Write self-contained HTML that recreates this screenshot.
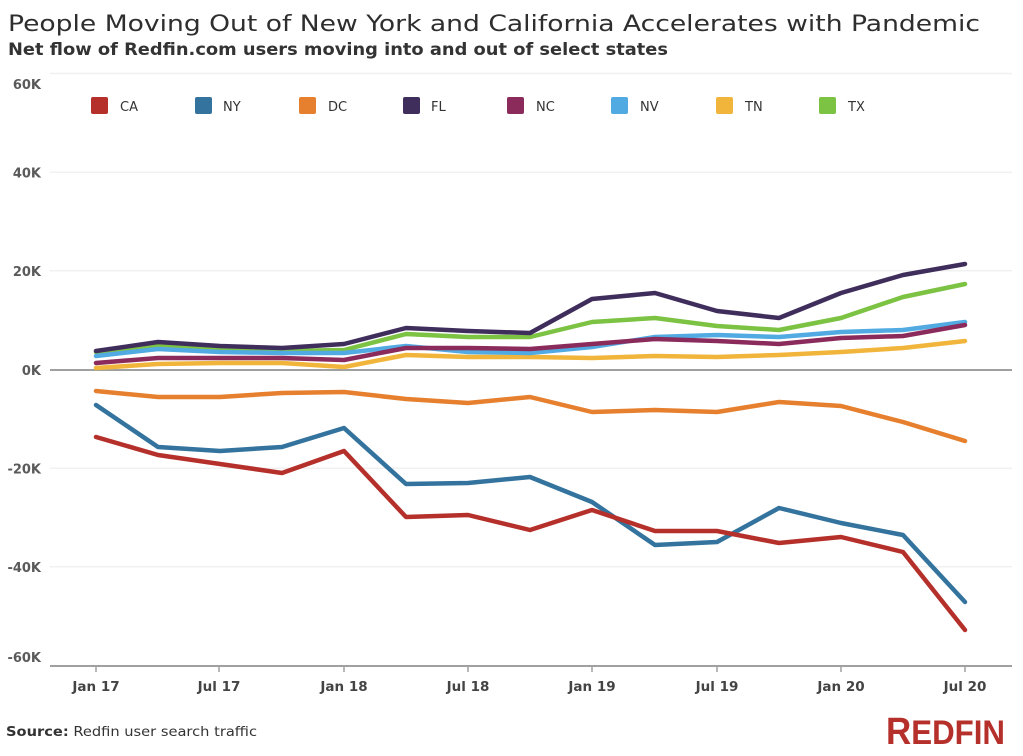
<!DOCTYPE html>
<html>
<head>
<meta charset="utf-8">
<style>
html,body{margin:0;padding:0;background:#fff;}
svg{display:block;}
text{font-family:"DejaVu Sans","Liberation Sans",sans-serif;}
</style>
</head>
<body>
<svg width="1023" height="756" viewBox="0 0 1023 756" xmlns="http://www.w3.org/2000/svg">
  <rect width="1023" height="756" fill="#fff"/>
  <!-- Title -->
  <text x="8" y="31" font-size="22" fill="#2e2e2e" textLength="972" lengthAdjust="spacingAndGlyphs">People Moving Out of New York and California Accelerates with Pandemic</text>
  <text x="8" y="55" font-size="16.5" font-weight="bold" fill="#333" textLength="660" lengthAdjust="spacingAndGlyphs">Net flow of Redfin.com users moving into and out of select states</text>

  <!-- gridlines -->
  <g stroke="#f0f0f0" stroke-width="1.5">
    <line x1="50" y1="73.5" x2="1012" y2="73.5"/>
    <line x1="50" y1="172.3" x2="1012" y2="172.3"/>
    <line x1="50" y1="270.7" x2="1012" y2="270.7"/>
    <line x1="50" y1="468.3" x2="1012" y2="468.3"/>
    <line x1="50" y1="566.7" x2="1012" y2="566.7"/>
  </g>
  <line x1="50" y1="370" x2="1012" y2="370" stroke="#a0a0a0" stroke-width="2"/>
  <line x1="50" y1="666" x2="1012" y2="666" stroke="#a0a0a0" stroke-width="2"/>
  <g stroke="#a0a0a0" stroke-width="1.5">
    <line x1="96" y1="666" x2="96" y2="672"/>
    <line x1="219" y1="666" x2="219" y2="672"/>
    <line x1="344" y1="666" x2="344" y2="672"/>
    <line x1="468" y1="666" x2="468" y2="672"/>
    <line x1="592" y1="666" x2="592" y2="672"/>
    <line x1="717" y1="666" x2="717" y2="672"/>
    <line x1="841" y1="666" x2="841" y2="672"/>
    <line x1="965" y1="666" x2="965" y2="672"/>
  </g>

  <!-- y labels -->
  <g font-size="13" font-weight="bold" fill="#5a5a5a" text-anchor="end">
    <text x="41" y="89">60K</text>
    <text x="41" y="177.5">40K</text>
    <text x="41" y="276">20K</text>
    <text x="41" y="375">0K</text>
    <text x="41" y="473.5">-20K</text>
    <text x="41" y="572">-40K</text>
    <text x="41" y="662">-60K</text>
  </g>

  <!-- x labels -->
  <g font-size="13.5" font-weight="bold" fill="#444" text-anchor="middle">
    <text x="96" y="691">Jan 17</text>
    <text x="219" y="691">Jul 17</text>
    <text x="344" y="691">Jan 18</text>
    <text x="468" y="691">Jul 18</text>
    <text x="592" y="691">Jan 19</text>
    <text x="717" y="691">Jul 19</text>
    <text x="841" y="691">Jan 20</text>
    <text x="965" y="691">Jul 20</text>
  </g>

  <!-- legend -->
  <g>
    <rect x="91" y="97" width="17" height="17" rx="2" fill="#b5302a"/>
    <rect x="195" y="97" width="17" height="17" rx="2" fill="#33739d"/>
    <rect x="299" y="97" width="17" height="17" rx="2" fill="#e6802e"/>
    <rect x="403" y="97" width="17" height="17" rx="2" fill="#3f2e5c"/>
    <rect x="507" y="97" width="17" height="17" rx="2" fill="#8a2b5c"/>
    <rect x="611" y="97" width="17" height="17" rx="2" fill="#52aae2"/>
    <rect x="716" y="97" width="17" height="17" rx="2" fill="#f1b53c"/>
    <rect x="819" y="97" width="17" height="17" rx="2" fill="#7cc243"/>
  </g>
  <g font-size="13" fill="#333">
    <text x="120" y="111">CA</text>
    <text x="223" y="111">NY</text>
    <text x="328" y="111">DC</text>
    <text x="431" y="111">FL</text>
    <text x="536" y="111">NC</text>
    <text x="640" y="111">NV</text>
    <text x="745" y="111">TN</text>
    <text x="848" y="111">TX</text>
  </g>

  <!-- series -->
  <g fill="none" stroke-width="4.5" stroke-linejoin="round" stroke-linecap="round">
    <polyline stroke="#7cc243" points="96,352 158,346 220,349 282,351 344,350 406,334 468,337 530,337 592,322 655,318 717,326 779,330 841,318 903,297 965,284"/>
    <polyline stroke="#f1b53c" points="96,368 158,364 220,363 282,363 344,367 406,355 468,357 530,357 592,358 655,356 717,357 779,355 841,352 903,348 965,341"/>
    <polyline stroke="#52aae2" points="96,356 158,349 220,352 282,353 344,353 406,346 468,352 530,353 592,347 655,337 717,335 779,337 841,332 903,330 965,322"/>
    <polyline stroke="#8a2b5c" points="96,363 158,358 220,358 282,358 344,360 406,348 468,348 530,349 592,344 655,339 717,341 779,344 841,338 903,336 965,325"/>
    <polyline stroke="#3f2e5c" points="96,351 158,342 220,346 282,348 344,344 406,328 468,331 530,333 592,299 655,293 717,311 779,318 841,293 903,275 965,264"/>
    <polyline stroke="#e6802e" points="96,391 158,397 220,397 282,393 344,392 406,399 468,403 530,397 592,412 655,410 717,412 779,402 841,406 903,422 965,441"/>
    <polyline stroke="#33739d" points="96,405 158,447 220,451 282,447 344,428 406,484 468,483 530,477 592,502 655,545 717,542 779,508 841,523 903,535 965,602"/>
    <polyline stroke="#b5302a" points="96,437 158,455 220,464 282,473 344,451 406,517 468,515 530,530 592,510 655,531 717,531 779,543 841,537 903,552 965,630"/>
  </g>

  <!-- source -->
  <text x="6" y="736" font-size="13.5" fill="#333" textLength="251" lengthAdjust="spacingAndGlyphs"><tspan font-weight="bold">Source:</tspan> Redfin user search traffic</text>

  <!-- logo -->
  <text x="886" y="744" fill="#b5302a" font-weight="bold" textLength="119" lengthAdjust="spacingAndGlyphs" style="font-family:'Liberation Sans',sans-serif"><tspan font-size="38">R</tspan><tspan font-size="34">EDFIN</tspan></text>
</svg>
</body>
</html>
